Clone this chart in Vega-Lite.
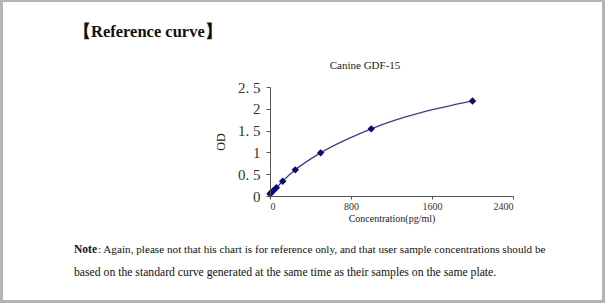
{
  "$schema": "https://vega.github.io/schema/vega-lite/v6.json",
  "width": 243,
  "height": 109,
  "autosize": {"type": "none"},
  "padding": {"left": 270, "top": 87, "right": 92, "bottom": 107},
  "background": "#b4b4b4",
  "config": {"view": {"stroke": null}, "font": "Liberation Serif"},
  "layer": [
    {
      "data": {"values": [{}]},
      "mark": {"type": "rect", "fill": "white"},
      "encoding": {
        "x": {"value": -267},
        "x2": {"value": 332},
        "y": {"value": -85},
        "y2": {"value": 213}
      }
    },
    {
      "data": {"values": [{"t": "【Reference curve】"}]},
      "mark": {"type": "text", "font": "Liberation Serif", "fontWeight": "bold", "fontSize": 16.5, "align": "left", "baseline": "middle", "color": "#111"},
      "encoding": {"text": {"field": "t"}, "x": {"value": -196}, "y": {"value": -55}}
    },
    {
      "data": {"values": [{"t": "Canine GDF-15"}]},
      "mark": {"type": "text", "font": "Liberation Serif", "fontSize": 11, "align": "center", "baseline": "middle", "color": "#222"},
      "encoding": {"text": {"field": "t"}, "x": {"value": 95}, "y": {"value": -21}}
    },
    {
      "data": {"values": [{"t": "Note"}]},
      "mark": {"type": "text", "font": "Liberation Serif", "fontWeight": "bold", "fontSize": 11.5, "align": "left", "baseline": "middle", "color": "#111"},
      "encoding": {"text": {"field": "t"}, "x": {"value": -196}, "y": {"value": 163}}
    },
    {
      "data": {"values": [{"t": ": Again, please not that his chart is for reference only, and that user sample concentrations should be"}]},
      "mark": {"type": "text", "font": "Liberation Serif", "fontSize": 11.2, "align": "left", "baseline": "middle", "color": "#111"},
      "encoding": {"text": {"field": "t"}, "x": {"value": -172}, "y": {"value": 163}}
    },
    {
      "data": {"values": [{"t": "based on the standard curve generated at the same time as their samples on the same plate."}]},
      "mark": {"type": "text", "font": "Liberation Serif", "fontSize": 11.7, "align": "left", "baseline": "middle", "color": "#111"},
      "encoding": {"text": {"field": "t"}, "x": {"value": -196}, "y": {"value": 185}}
    },
    {
      "data": {"values": [
        {"conc": 0, "od": 0.05},
        {"conc": 15.6, "od": 0.08},
        {"conc": 31.25, "od": 0.12},
        {"conc": 62.5, "od": 0.19},
        {"conc": 125, "od": 0.34},
        {"conc": 250, "od": 0.6},
        {"conc": 500, "od": 0.99},
        {"conc": 1000, "od": 1.54},
        {"conc": 2000, "od": 2.18}
      ]},
      "layer": [
        {"mark": {"type": "line", "color": "#3a3a9c", "strokeWidth": 1.3, "interpolate": "monotone"}},
        {"mark": {"type": "point", "shape": "diamond", "filled": true, "size": 55, "color": "#0a0a7a", "opacity": 1}}
      ],
      "encoding": {
        "x": {
          "field": "conc", "type": "quantitative",
          "scale": {"domain": [0, 2400], "nice": false},
          "axis": {
            "zindex": 1, "format": "d",
            "values": [0, 800, 1600, 2400], "grid": false, "title": "Concentration(pg/ml)",
            "domainColor": "#555", "tickColor": "#555", "tickSize": 3,
            "labelFont": "Liberation Serif", "labelFontSize": 10, "labelColor": "#333", "labelPadding": 2,
            "titleFont": "Liberation Serif", "titleFontSize": 10, "titleFontWeight": "normal", "titleColor": "#222", "titlePadding": 2
          }
        },
        "y": {
          "field": "od", "type": "quantitative",
          "scale": {"domain": [0, 2.5], "nice": false},
          "axis": {
            "zindex": 1, "format": "~g",
            "values": [0, 0.5, 1, 1.5, 2, 2.5], "grid": false, "title": "OD",
            "labelExpr": "replace(datum.label, '.', '. ')",
            "domainColor": "#555", "tickColor": "#555", "tickSize": 4,
            "labelFont": "Liberation Serif", "labelFontSize": 15, "labelColor": "#333", "labelPadding": 6,
            "titleFont": "Liberation Serif", "titleFontSize": 12, "titleFontWeight": "normal", "titleColor": "#222", "titlePadding": 10
          }
        }
      }
    }
  ]
}
